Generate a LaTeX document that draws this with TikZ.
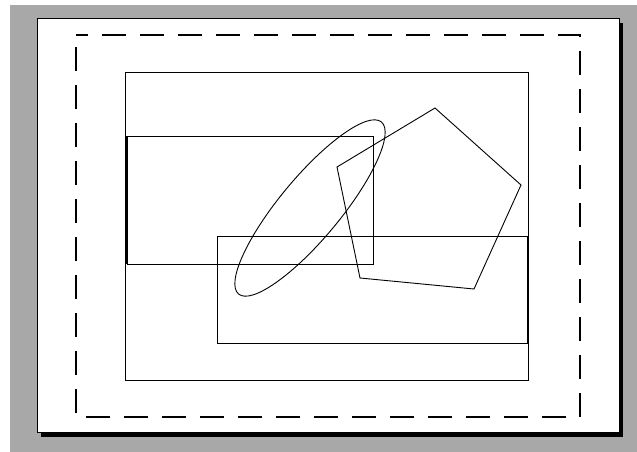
\documentclass[tikz,border=0pt]{standalone}
\definecolor{bggray}{RGB}{168,168,168}
\tikzset{
  shape line/.style={draw=black,line width=0.9pt},
  dash line/.style={draw=black,line width=1.6pt,dash pattern=on 24pt off 14pt,dash phase=12pt}
}
\begin{document}
\begin{tikzpicture}[x=1pt,y=-1pt]
\useasboundingbox (0,0) rectangle (637,452);
\fill[white] (0,0) rectangle (637,452);
\fill[bggray] (10,5) rectangle (637,452);
% shadow
\fill[black] (41,23) rectangle (623,437);
% page
\filldraw[fill=white,draw=black,line width=1pt] (37,19) rectangle (619,432);
% dashed margin
\draw[dash line] (76,35) -- (580,35) -- (580,417) -- (76,417) -- cycle;
% rectangles
\draw[shape line] (125,72) rectangle (528,380);
\draw[shape line] (127,136) rectangle (373,264);
\draw[line width=1.8pt] (127,136) -- (127,264);
\draw[shape line] (217,236) rectangle (527,343);
% ellipse
\draw[shape line,rotate around={50.3:(310,208)}] (310,208) ellipse [x radius=111.8, y radius=30.4];
% pentagon
\draw[shape line] (435,108) -- (521,185) -- (474,289) -- (360,278) -- (337,167) -- cycle;
\end{tikzpicture}
\end{document}
